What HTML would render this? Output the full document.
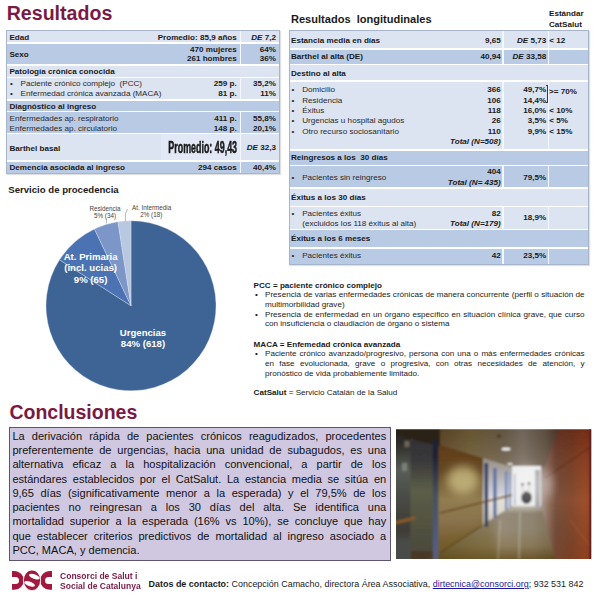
<!DOCTYPE html>
<html><head><meta charset="utf-8"><style>
html,body{margin:0;padding:0;}
body{width:600px;height:600px;overflow:hidden;position:relative;background:#ffffff;font-family:"Liberation Sans", sans-serif;color:#1a1a1a;}
.t{position:absolute;white-space:nowrap;}
.r{position:absolute;}
</style></head><body>
<div class="t " style="top:3.60px;font-size:19.6px;line-height:19.6px;font-weight:bold;color:#7a1a44;left:6.70px;">Resultados</div>
<div class="r" style="left:6px;top:30px;width:274px;height:144px;background:#ffffff;border:1px solid #a6b5c9;box-sizing:border-box;box-shadow:1px 1px 1px rgba(0,0,0,0.12);"></div>
<div class="r" style="left:7px;top:31px;width:272px;height:11px;background:#dce3f1;"></div>
<div class="r" style="left:239.5px;top:31px;width:1.5px;height:11px;background:#f4f7fc;"></div>
<div class="r" style="left:7px;top:43.5px;width:272px;height:20.5px;background:#b9cae5;"></div>
<div class="r" style="left:239.5px;top:43.5px;width:1.5px;height:20.5px;background:#f4f7fc;"></div>
<div class="r" style="left:7px;top:65.5px;width:272px;height:11.0px;background:#dce3f1;"></div>
<div class="r" style="left:7px;top:77.5px;width:272px;height:21.5px;background:#dce3f1;"></div>
<div class="r" style="left:239.5px;top:77.5px;width:1.5px;height:21.5px;background:#f4f7fc;"></div>
<div class="r" style="left:7px;top:100.5px;width:272px;height:10.3px;background:#b9cae5;"></div>
<div class="r" style="left:7px;top:112px;width:272px;height:20.5px;background:#b9cae5;"></div>
<div class="r" style="left:239.5px;top:112px;width:1.5px;height:20.5px;background:#f4f7fc;"></div>
<div class="r" style="left:7px;top:134px;width:272px;height:26.3px;background:#dce3f1;"></div>
<div class="r" style="left:239.5px;top:134px;width:1.5px;height:26.3px;background:#f4f7fc;"></div>
<div class="r" style="left:7px;top:162px;width:272px;height:11px;background:#b9cae5;"></div>
<div class="r" style="left:239.5px;top:162px;width:1.5px;height:11px;background:#f4f7fc;"></div>
<div class="t " style="top:33.70px;font-size:8.1px;line-height:8.1px;font-weight:bold;color:#1a1a1a;left:9.40px;">Edad</div>
<div class="t " style="top:33.70px;font-size:8.1px;line-height:8.1px;font-weight:bold;color:#1a1a1a;right:363.20px;text-align:right;">Promedio: 85,9 años</div>
<div class="t " style="top:33.70px;font-size:8.1px;line-height:8.1px;font-weight:bold;color:#1a1a1a;right:324.00px;text-align:right;"><i>DE</i> 7,2</div>
<div class="t " style="top:50.90px;font-size:8.1px;line-height:8.1px;font-weight:bold;color:#1a1a1a;left:9.40px;">Sexo</div>
<div class="t " style="top:45.80px;font-size:8.1px;line-height:8.1px;font-weight:bold;color:#1a1a1a;right:363.20px;text-align:right;">470 mujeres</div>
<div class="t " style="top:55.20px;font-size:8.1px;line-height:8.1px;font-weight:bold;color:#1a1a1a;right:363.20px;text-align:right;">261 hombres</div>
<div class="t " style="top:45.80px;font-size:8.1px;line-height:8.1px;font-weight:bold;color:#1a1a1a;right:324.00px;text-align:right;">64%</div>
<div class="t " style="top:55.20px;font-size:8.1px;line-height:8.1px;font-weight:bold;color:#1a1a1a;right:324.00px;text-align:right;">36%</div>
<div class="t " style="top:67.75px;font-size:8.1px;line-height:8.1px;font-weight:bold;color:#1a1a1a;left:9.40px;">Patología crónica conocida</div>
<div class="t " style="top:80.25px;font-size:8.1px;line-height:8.1px;color:#2a2a2a;left:10.00px;">•</div>
<div class="t " style="top:80.25px;font-size:8.1px;line-height:8.1px;color:#2a2a2a;left:20.60px;">Paciente crónico complejo&nbsp; (PCC)</div>
<div class="t " style="top:80.25px;font-size:8.1px;line-height:8.1px;font-weight:bold;color:#1a1a1a;right:363.20px;text-align:right;">259 p.</div>
<div class="t " style="top:80.25px;font-size:8.1px;line-height:8.1px;font-weight:bold;color:#1a1a1a;right:324.00px;text-align:right;">35,2%</div>
<div class="t " style="top:89.60px;font-size:8.1px;line-height:8.1px;color:#2a2a2a;left:10.00px;">•</div>
<div class="t " style="top:89.60px;font-size:8.1px;line-height:8.1px;color:#2a2a2a;left:20.60px;">Enfermedad crónica avanzada (MACA)</div>
<div class="t " style="top:89.60px;font-size:8.1px;line-height:8.1px;font-weight:bold;color:#1a1a1a;right:363.20px;text-align:right;">81 p.</div>
<div class="t " style="top:89.60px;font-size:8.1px;line-height:8.1px;font-weight:bold;color:#1a1a1a;right:324.00px;text-align:right;">11%</div>
<div class="t " style="top:102.75px;font-size:8.1px;line-height:8.1px;font-weight:bold;color:#1a1a1a;left:9.40px;">Diagnóstico al ingreso</div>
<div class="t " style="top:115.25px;font-size:8.1px;line-height:8.1px;color:#2a2a2a;left:9.60px;">Enfermedades ap. respiratorio</div>
<div class="t " style="top:115.25px;font-size:8.1px;line-height:8.1px;font-weight:bold;color:#1a1a1a;right:363.20px;text-align:right;">411 p.</div>
<div class="t " style="top:115.25px;font-size:8.1px;line-height:8.1px;font-weight:bold;color:#1a1a1a;right:324.00px;text-align:right;">55,8%</div>
<div class="t " style="top:124.75px;font-size:8.1px;line-height:8.1px;color:#2a2a2a;left:9.60px;">Enfermedades ap. circulatorio</div>
<div class="t " style="top:124.75px;font-size:8.1px;line-height:8.1px;font-weight:bold;color:#1a1a1a;right:363.20px;text-align:right;">148 p.</div>
<div class="t " style="top:124.75px;font-size:8.1px;line-height:8.1px;font-weight:bold;color:#1a1a1a;right:324.00px;text-align:right;">20,1%</div>
<div class="r" style="left:161px;top:134px;width:78.5px;height:26.3px;background:#e3e8f6;"></div>
<div class="t " style="top:144.75px;font-size:8.1px;line-height:8.1px;font-weight:bold;color:#1a1a1a;left:9.40px;">Barthel basal</div>
<div class="t " style="top:140.00px;font-size:15.8px;line-height:15.8px;font-weight:bold;color:#1a1a1a;right:363.20px;text-align:right;transform:scaleX(0.563);transform-origin:100% 50%;-webkit-text-stroke:0.55px #1a1a1a;">Promedio: 49,43</div>
<div class="t " style="top:144.40px;font-size:8.1px;line-height:8.1px;font-weight:bold;color:#1a1a1a;right:324.00px;text-align:right;"><i>DE</i> 32,3</div>
<div class="t " style="top:164.00px;font-size:8.1px;line-height:8.1px;font-weight:bold;color:#1a1a1a;left:9.40px;">Demencia asociada al ingreso</div>
<div class="t " style="top:164.00px;font-size:8.1px;line-height:8.1px;font-weight:bold;color:#1a1a1a;right:363.20px;text-align:right;">294 casos</div>
<div class="t " style="top:164.00px;font-size:8.1px;line-height:8.1px;font-weight:bold;color:#1a1a1a;right:324.00px;text-align:right;">40,4%</div>
<div class="t " style="top:14.10px;font-size:11.05px;line-height:11.05px;font-weight:bold;color:#1a1a1a;left:291.00px;">Resultados&nbsp; longitudinales</div>
<div class="t " style="top:10.00px;font-size:8.1px;line-height:8.1px;font-weight:bold;color:#1a1a1a;left:549.00px;">Estándar</div>
<div class="t " style="top:20.70px;font-size:8.1px;line-height:8.1px;font-weight:bold;color:#1a1a1a;left:549.00px;">CatSalut</div>
<div class="r" style="left:289px;top:30px;width:299.5px;height:234.5px;background:#ffffff;border:1px solid #a6b5c9;box-sizing:border-box;box-shadow:1px 1px 1px rgba(0,0,0,0.12);"></div>
<div class="r" style="left:290px;top:31px;width:297.5px;height:17.3px;background:#dce3f1;"></div>
<div class="r" style="left:502px;top:31px;width:1.5px;height:17.3px;background:#f4f7fc;"></div>
<div class="r" style="left:547.5px;top:31px;width:1.5px;height:17.3px;background:#f4f7fc;"></div>
<div class="r" style="left:290px;top:49.6px;width:297.5px;height:14.1px;background:#b9cae5;"></div>
<div class="r" style="left:502px;top:49.6px;width:1.5px;height:14.1px;background:#f4f7fc;"></div>
<div class="r" style="left:547.5px;top:49.6px;width:1.5px;height:14.1px;background:#f4f7fc;"></div>
<div class="r" style="left:290px;top:65px;width:297.5px;height:15.3px;background:#dce3f1;"></div>
<div class="r" style="left:290px;top:81.6px;width:297.5px;height:67.4px;background:#dce3f1;"></div>
<div class="r" style="left:502px;top:81.6px;width:1.5px;height:67.4px;background:#f4f7fc;"></div>
<div class="r" style="left:547.5px;top:81.6px;width:1.5px;height:67.4px;background:#f4f7fc;"></div>
<div class="r" style="left:290px;top:150.6px;width:297.5px;height:14.4px;background:#b9cae5;"></div>
<div class="r" style="left:290px;top:166.4px;width:297.5px;height:20.9px;background:#b9cae5;"></div>
<div class="r" style="left:502px;top:166.4px;width:1.5px;height:20.9px;background:#f4f7fc;"></div>
<div class="r" style="left:547.5px;top:166.4px;width:1.5px;height:20.9px;background:#f4f7fc;"></div>
<div class="r" style="left:290px;top:188.8px;width:297.5px;height:17.2px;background:#dce3f1;"></div>
<div class="r" style="left:290px;top:207.4px;width:297.5px;height:21.3px;background:#dce3f1;"></div>
<div class="r" style="left:502px;top:207.4px;width:1.5px;height:21.3px;background:#f4f7fc;"></div>
<div class="r" style="left:547.5px;top:207.4px;width:1.5px;height:21.3px;background:#f4f7fc;"></div>
<div class="r" style="left:290px;top:230px;width:297.5px;height:17.3px;background:#b9cae5;"></div>
<div class="r" style="left:290px;top:248.7px;width:297.5px;height:15.3px;background:#b9cae5;"></div>
<div class="r" style="left:502px;top:248.7px;width:1.5px;height:15.3px;background:#f4f7fc;"></div>
<div class="r" style="left:547.5px;top:248.7px;width:1.5px;height:15.3px;background:#f4f7fc;"></div>
<div class="t " style="top:36.50px;font-size:8.1px;line-height:8.1px;font-weight:bold;color:#1a1a1a;left:291.00px;">Estancia media en días</div>
<div class="t " style="top:36.50px;font-size:8.1px;line-height:8.1px;font-weight:bold;color:#1a1a1a;right:99.20px;text-align:right;">9,65</div>
<div class="t " style="top:36.50px;font-size:8.1px;line-height:8.1px;font-weight:bold;color:#1a1a1a;right:53.80px;text-align:right;"><i>DE</i> 5,73</div>
<div class="t " style="top:36.50px;font-size:8.1px;line-height:8.1px;font-weight:bold;color:#1a1a1a;left:549.30px;">&lt; 12</div>
<div class="t " style="top:53.20px;font-size:8.1px;line-height:8.1px;font-weight:bold;color:#1a1a1a;left:291.00px;">Barthel al alta (DE)</div>
<div class="t " style="top:53.20px;font-size:8.1px;line-height:8.1px;font-weight:bold;color:#1a1a1a;right:99.20px;text-align:right;">40,94</div>
<div class="t " style="top:53.20px;font-size:8.1px;line-height:8.1px;font-weight:bold;color:#1a1a1a;right:53.80px;text-align:right;"><i>DE</i> 33,58</div>
<div class="t " style="top:69.70px;font-size:8.1px;line-height:8.1px;font-weight:bold;color:#1a1a1a;left:291.00px;">Destino al alta</div>
<div class="t " style="top:86.00px;font-size:8.1px;line-height:8.1px;color:#2a2a2a;left:291.50px;">•</div>
<div class="t " style="top:86.00px;font-size:8.1px;line-height:8.1px;color:#2a2a2a;left:302.20px;">Domicilio</div>
<div class="t " style="top:86.00px;font-size:8.1px;line-height:8.1px;font-weight:bold;color:#1a1a1a;right:99.20px;text-align:right;">366</div>
<div class="t " style="top:86.00px;font-size:8.1px;line-height:8.1px;font-weight:bold;color:#1a1a1a;right:53.80px;text-align:right;">49,7%</div>
<div class="t " style="top:96.50px;font-size:8.1px;line-height:8.1px;color:#2a2a2a;left:291.50px;">•</div>
<div class="t " style="top:96.50px;font-size:8.1px;line-height:8.1px;color:#2a2a2a;left:302.20px;">Residencia</div>
<div class="t " style="top:96.50px;font-size:8.1px;line-height:8.1px;font-weight:bold;color:#1a1a1a;right:99.20px;text-align:right;">106</div>
<div class="t " style="top:96.50px;font-size:8.1px;line-height:8.1px;font-weight:bold;color:#1a1a1a;right:53.80px;text-align:right;">14,4%</div>
<div class="t " style="top:106.50px;font-size:8.1px;line-height:8.1px;color:#2a2a2a;left:291.50px;">•</div>
<div class="t " style="top:106.50px;font-size:8.1px;line-height:8.1px;color:#2a2a2a;left:302.20px;">Éxitus</div>
<div class="t " style="top:106.50px;font-size:8.1px;line-height:8.1px;font-weight:bold;color:#1a1a1a;right:99.20px;text-align:right;">118</div>
<div class="t " style="top:106.50px;font-size:8.1px;line-height:8.1px;font-weight:bold;color:#1a1a1a;right:53.80px;text-align:right;">16,0%</div>
<div class="t " style="top:117.10px;font-size:8.1px;line-height:8.1px;color:#2a2a2a;left:291.50px;">•</div>
<div class="t " style="top:117.10px;font-size:8.1px;line-height:8.1px;color:#2a2a2a;left:302.20px;">Urgencias u hospital agudos</div>
<div class="t " style="top:117.10px;font-size:8.1px;line-height:8.1px;font-weight:bold;color:#1a1a1a;right:99.20px;text-align:right;">26</div>
<div class="t " style="top:117.10px;font-size:8.1px;line-height:8.1px;font-weight:bold;color:#1a1a1a;right:53.80px;text-align:right;">3,5%</div>
<div class="t " style="top:127.50px;font-size:8.1px;line-height:8.1px;color:#2a2a2a;left:291.50px;">•</div>
<div class="t " style="top:127.50px;font-size:8.1px;line-height:8.1px;color:#2a2a2a;left:302.20px;">Otro recurso sociosanitario</div>
<div class="t " style="top:127.50px;font-size:8.1px;line-height:8.1px;font-weight:bold;color:#1a1a1a;right:99.20px;text-align:right;">110</div>
<div class="t " style="top:127.50px;font-size:8.1px;line-height:8.1px;font-weight:bold;color:#1a1a1a;right:53.80px;text-align:right;">9,9%</div>
<div class="r" style="left:545.8px;top:84.6px;width:2.4px;height:18px;border:0.8px solid #3a3a3a;border-left:none;box-sizing:border-box;"></div>
<div class="t " style="top:88.30px;font-size:8.1px;line-height:8.1px;font-weight:bold;color:#1a1a1a;left:549.10px;">&gt;= 70%</div>
<div class="t " style="top:106.50px;font-size:8.1px;line-height:8.1px;font-weight:bold;color:#1a1a1a;left:549.30px;">&lt; 10%</div>
<div class="t " style="top:117.10px;font-size:8.1px;line-height:8.1px;font-weight:bold;color:#1a1a1a;left:549.30px;">&lt; 5%</div>
<div class="t " style="top:127.50px;font-size:8.1px;line-height:8.1px;font-weight:bold;color:#1a1a1a;left:549.30px;">&lt; 15%</div>
<div class="t " style="top:138.00px;font-size:8.1px;line-height:8.1px;font-weight:bold;font-style:italic;color:#1a1a1a;right:99.20px;text-align:right;">Total (N=508)</div>
<div class="t " style="top:154.20px;font-size:8.1px;line-height:8.1px;font-weight:bold;color:#1a1a1a;left:291.00px;">Reingresos a los&nbsp; 30 días</div>
<div class="t " style="top:173.70px;font-size:8.1px;line-height:8.1px;color:#2a2a2a;left:291.50px;">•</div>
<div class="t " style="top:173.70px;font-size:8.1px;line-height:8.1px;color:#2a2a2a;left:302.20px;">Pacientes sin reingreso</div>
<div class="t " style="top:167.80px;font-size:8.1px;line-height:8.1px;font-weight:bold;color:#1a1a1a;right:99.20px;text-align:right;">404</div>
<div class="t " style="top:179.00px;font-size:8.1px;line-height:8.1px;font-weight:bold;font-style:italic;color:#1a1a1a;right:99.20px;text-align:right;">Total (N= 435)</div>
<div class="t " style="top:174.20px;font-size:8.1px;line-height:8.1px;font-weight:bold;color:#1a1a1a;right:53.80px;text-align:right;">79,5%</div>
<div class="t " style="top:193.70px;font-size:8.1px;line-height:8.1px;font-weight:bold;color:#1a1a1a;left:291.00px;">Éxitus a los 30 días</div>
<div class="t " style="top:209.70px;font-size:8.1px;line-height:8.1px;color:#2a2a2a;left:291.50px;">•</div>
<div class="t " style="top:209.70px;font-size:8.1px;line-height:8.1px;color:#2a2a2a;left:302.20px;">Pacientes éxitus</div>
<div class="t " style="top:219.50px;font-size:8.1px;line-height:8.1px;color:#2a2a2a;left:302.20px;">(excluidos los 118 éxitus al alta)</div>
<div class="t " style="top:209.70px;font-size:8.1px;line-height:8.1px;font-weight:bold;color:#1a1a1a;right:99.20px;text-align:right;">82</div>
<div class="t " style="top:219.80px;font-size:8.1px;line-height:8.1px;font-weight:bold;font-style:italic;color:#1a1a1a;right:99.20px;text-align:right;">Total (N=179)</div>
<div class="t " style="top:214.20px;font-size:8.1px;line-height:8.1px;font-weight:bold;color:#1a1a1a;right:53.80px;text-align:right;">18,9%</div>
<div class="t " style="top:235.00px;font-size:8.1px;line-height:8.1px;font-weight:bold;color:#1a1a1a;left:291.00px;">Éxitus a los 6 meses</div>
<div class="t " style="top:252.30px;font-size:8.1px;line-height:8.1px;color:#2a2a2a;left:291.50px;">•</div>
<div class="t " style="top:252.30px;font-size:8.1px;line-height:8.1px;color:#2a2a2a;left:302.20px;">Pacientes éxitus</div>
<div class="t " style="top:252.30px;font-size:8.1px;line-height:8.1px;font-weight:bold;color:#1a1a1a;right:99.20px;text-align:right;">42</div>
<div class="t " style="top:252.30px;font-size:8.1px;line-height:8.1px;font-weight:bold;color:#1a1a1a;right:53.80px;text-align:right;">23,5%</div>
<div class="t " style="top:281.80px;font-size:8.1px;line-height:8.1px;font-weight:bold;color:#1a1a1a;left:253.60px;">PCC = paciente crónico complejo</div>
<div class="t " style="top:291.10px;font-size:8.1px;line-height:8.1px;color:#1a1a1a;left:255.00px;">•</div>
<div class="t " style="top:291.10px;font-size:8.1px;line-height:8.1px;color:#1a1a1a;left:265.00px;width:319.60px;text-align:justify;text-align-last:justify;">Presencia de varias enfermedades crónicas de manera concurrente (perfil o situación de</div>
<div class="t " style="top:300.50px;font-size:8.1px;line-height:8.1px;color:#1a1a1a;left:265.00px;">multimorbilidad grave)</div>
<div class="t " style="top:310.50px;font-size:8.1px;line-height:8.1px;color:#1a1a1a;left:255.00px;">•</div>
<div class="t " style="top:310.50px;font-size:8.1px;line-height:8.1px;color:#1a1a1a;left:265.00px;width:319.60px;text-align:justify;text-align-last:justify;">Presencia de enfermedad en un órgano específico en situación clínica grave, que curso</div>
<div class="t " style="top:319.80px;font-size:8.1px;line-height:8.1px;color:#1a1a1a;left:265.00px;">con insuficiencia o claudiación de órgano o sistema</div>
<div class="t " style="top:340.80px;font-size:8.1px;line-height:8.1px;font-weight:bold;color:#1a1a1a;left:253.60px;">MACA = Enfemedad crónica avanzada</div>
<div class="t " style="top:350.20px;font-size:8.1px;line-height:8.1px;color:#1a1a1a;left:255.00px;">•</div>
<div class="t " style="top:350.20px;font-size:8.1px;line-height:8.1px;color:#1a1a1a;left:265.00px;width:319.60px;text-align:justify;text-align-last:justify;">Paciente crónico avanzado/progresivo, persona con una o más enfermedades crónicas</div>
<div class="t " style="top:360.10px;font-size:8.1px;line-height:8.1px;color:#1a1a1a;left:265.00px;width:319.60px;text-align:justify;text-align-last:justify;">en fase evolucionada, grave o progresiva, con otras necesidades de atención, y</div>
<div class="t " style="top:370.00px;font-size:8.1px;line-height:8.1px;color:#1a1a1a;left:265.00px;">pronóstico de vida probablemente limitado.</div>
<div class="t " style="top:388.50px;font-size:8.1px;line-height:8.1px;color:#1a1a1a;left:253.60px;"><b>CatSalut</b> = Servicio Catalán de la Salud</div>
<svg class="r" style="left:0;top:0" width="600" height="600" viewBox="0 0 600 600"><path d="M131.0,305.75 L131.00,220.75 A85.0,85.0 0 1 1 59.47,259.84 Z" fill="#3e6496" stroke="#dfe6f0" stroke-width="0.35" stroke-linejoin="round"/><path d="M131.0,305.75 L59.47,259.84 A85.0,85.0 0 0 1 94.45,229.01 Z" fill="#4b73b4" stroke="#dfe6f0" stroke-width="0.35" stroke-linejoin="round"/><path d="M131.0,305.75 L94.45,229.01 A85.0,85.0 0 0 1 117.97,221.75 Z" fill="#7d96c8" stroke="#dfe6f0" stroke-width="0.35" stroke-linejoin="round"/><path d="M131.0,305.75 L117.97,221.75 A85.0,85.0 0 0 1 131.00,220.75 Z" fill="#b9c8e1" stroke="#dfe6f0" stroke-width="0.35" stroke-linejoin="round"/><line x1="106.6" y1="219.5" x2="106.6" y2="223.5" stroke="#8a8a8a" stroke-width="0.6"/><polyline points="127.5,209 125.4,214 125.4,221" fill="none" stroke="#8a8a8a" stroke-width="0.6"/></svg>
<div class="t " style="top:185.40px;font-size:9.6px;line-height:9.6px;font-weight:bold;color:#1a1a1a;left:8.30px;">Servicio de procedencia</div>
<div class="t " style="top:206.40px;font-size:6.3px;line-height:6.3px;color:#444;left:5.00px;width:200px;text-align:center;">Residencia</div>
<div class="t " style="top:213.30px;font-size:6.3px;line-height:6.3px;color:#444;left:5.00px;width:200px;text-align:center;">5% (34)</div>
<div class="t " style="top:205.00px;font-size:6.3px;line-height:6.3px;color:#444;left:51.60px;width:200px;text-align:center;">At. Intermedia</div>
<div class="t " style="top:211.50px;font-size:6.3px;line-height:6.3px;color:#444;left:51.30px;width:200px;text-align:center;">2% (18)</div>
<div class="t " style="top:252.00px;font-size:9.6px;line-height:9.6px;font-weight:bold;color:#ffffff;left:-9.40px;width:200px;text-align:center;">At. Primaria</div>
<div class="t " style="top:263.25px;font-size:9.6px;line-height:9.6px;font-weight:bold;color:#ffffff;left:-9.40px;width:200px;text-align:center;">(incl. ucias)</div>
<div class="t " style="top:274.50px;font-size:9.6px;line-height:9.6px;font-weight:bold;color:#ffffff;left:-9.40px;width:200px;text-align:center;">9% (65)</div>
<div class="t " style="top:327.80px;font-size:9.6px;line-height:9.6px;font-weight:bold;color:#ffffff;left:43.00px;width:200px;text-align:center;">Urgencias</div>
<div class="t " style="top:339.40px;font-size:9.6px;line-height:9.6px;font-weight:bold;color:#ffffff;left:43.00px;width:200px;text-align:center;">84% (618)</div>
<div class="t " style="top:402.90px;font-size:19.5px;line-height:19.5px;font-weight:bold;color:#7a1a44;left:9.40px;">Conclusiones</div>
<div class="r" style="left:9px;top:427px;width:381.5px;height:133.5px;background:#d0c8e1;border:1.3px solid #5e5670;box-sizing:border-box;"></div>
<div class="t " style="top:430.75px;font-size:11.05px;line-height:11.05px;color:#111;left:12.40px;width:373.80px;text-align:justify;text-align-last:justify;">La derivación rápida de pacientes crónicos reagudizados, procedentes</div>
<div class="t " style="top:445.00px;font-size:11.05px;line-height:11.05px;color:#111;left:12.40px;width:373.80px;text-align:justify;text-align-last:justify;">preferentemente de urgencias, hacia una unidad de subagudos, es una</div>
<div class="t " style="top:459.25px;font-size:11.05px;line-height:11.05px;color:#111;left:12.40px;width:373.80px;text-align:justify;text-align-last:justify;">alternativa eficaz a la hospitalización convencional, a partir de los</div>
<div class="t " style="top:473.50px;font-size:11.05px;line-height:11.05px;color:#111;left:12.40px;width:373.80px;text-align:justify;text-align-last:justify;">estándares establecidos por el CatSalut. La estancia media se sitúa en</div>
<div class="t " style="top:487.75px;font-size:11.05px;line-height:11.05px;color:#111;left:12.40px;width:373.80px;text-align:justify;text-align-last:justify;">9,65 días (significativamente menor a la esperada) y el 79,5% de los</div>
<div class="t " style="top:502.00px;font-size:11.05px;line-height:11.05px;color:#111;left:12.40px;width:373.80px;text-align:justify;text-align-last:justify;">pacientes no reingresan a los 30 días del alta. Se identifica una</div>
<div class="t " style="top:516.25px;font-size:11.05px;line-height:11.05px;color:#111;left:12.40px;width:373.80px;text-align:justify;text-align-last:justify;">mortalidad superior a la esperada (16% vs 10%), se concluye que hay</div>
<div class="t " style="top:530.50px;font-size:11.05px;line-height:11.05px;color:#111;left:12.40px;width:373.80px;text-align:justify;text-align-last:justify;">que establecer criterios predictivos de mortalidad al ingreso asociado a</div>
<div class="t " style="top:544.75px;font-size:11.05px;line-height:11.05px;color:#111;left:12.40px;">PCC, MACA, y demencia.</div>
<svg class="r" style="left:0;top:0" width="600" height="600" viewBox="0 0 600 600">
<defs>
<clipPath id="pc"><rect x="396" y="429.2" width="195.3" height="129.8"/></clipPath>
<filter id="bl" x="-10%" y="-10%" width="120%" height="120%"><feGaussianBlur stdDeviation="1.2"/></filter>
<filter id="bl2" x="-50%" y="-50%" width="200%" height="200%"><feGaussianBlur stdDeviation="5"/></filter>
<linearGradient id="gA" gradientUnits="userSpaceOnUse" x1="0" y1="429" x2="0" y2="559"><stop offset="0" stop-color="#282622"/><stop offset="0.1" stop-color="#2d2a26"/><stop offset="0.32" stop-color="#585d56"/><stop offset="0.55" stop-color="#484944"/><stop offset="0.78" stop-color="#3e3c36"/><stop offset="0.88" stop-color="#4a4c48"/><stop offset="1" stop-color="#4a4c48"/></linearGradient>
<linearGradient id="gA2" gradientUnits="userSpaceOnUse" x1="0" y1="440" x2="0" y2="559"><stop offset="0" stop-color="#323236"/><stop offset="0.17" stop-color="#38383a"/><stop offset="0.42" stop-color="#5c5e48"/><stop offset="0.76" stop-color="#505040"/><stop offset="1" stop-color="#4b483a"/></linearGradient>
<linearGradient id="gB" gradientUnits="userSpaceOnUse" x1="0" y1="440" x2="0" y2="559"><stop offset="0" stop-color="#1e2234"/><stop offset="0.15" stop-color="#202437"/><stop offset="0.45" stop-color="#46505a"/><stop offset="1" stop-color="#56608a"/></linearGradient>
<linearGradient id="gC" gradientUnits="userSpaceOnUse" x1="0" y1="444" x2="0" y2="563"><stop offset="0" stop-color="#5c3a18"/><stop offset="0.05" stop-color="#623e1a"/><stop offset="0.22" stop-color="#644824"/><stop offset="0.47" stop-color="#917d50"/><stop offset="0.64" stop-color="#8a734e"/><stop offset="0.81" stop-color="#786030"/><stop offset="1" stop-color="#685024"/></linearGradient>
<linearGradient id="gD" gradientUnits="userSpaceOnUse" x1="437" y1="0" x2="560" y2="0"><stop offset="0" stop-color="#5f4626"/><stop offset="0.27" stop-color="#6e5c34"/><stop offset="0.55" stop-color="#6c5e4a"/><stop offset="0.7" stop-color="#7a6e60"/><stop offset="0.88" stop-color="#645444"/><stop offset="1" stop-color="#4b3426"/></linearGradient>
<linearGradient id="gDv" gradientUnits="userSpaceOnUse" x1="0" y1="429" x2="0" y2="468"><stop offset="0" stop-color="#000" stop-opacity="0.08"/><stop offset="1" stop-color="#fff" stop-opacity="0.12"/></linearGradient>
<linearGradient id="gE" gradientUnits="userSpaceOnUse" x1="541" y1="0" x2="592" y2="0"><stop offset="0" stop-color="#afa098"/><stop offset="0.14" stop-color="#967664"/><stop offset="0.29" stop-color="#7c5440"/><stop offset="0.57" stop-color="#864e32"/><stop offset="0.86" stop-color="#a0502c"/><stop offset="1" stop-color="#964424"/></linearGradient>
<linearGradient id="gE2" gradientUnits="userSpaceOnUse" x1="0" y1="429" x2="0" y2="559"><stop offset="0" stop-color="#3c0500" stop-opacity="0.45"/><stop offset="0.25" stop-color="#3c0500" stop-opacity="0.2"/><stop offset="0.55" stop-color="#000000" stop-opacity="0"/><stop offset="1" stop-color="#5a1900" stop-opacity="0.25"/></linearGradient>
<linearGradient id="gF" gradientUnits="userSpaceOnUse" x1="0" y1="506" x2="0" y2="559"><stop offset="0" stop-color="#c8c4b8"/><stop offset="0.14" stop-color="#968c7a"/><stop offset="0.45" stop-color="#968c78"/><stop offset="0.75" stop-color="#908060"/><stop offset="1" stop-color="#705a30"/></linearGradient>
<linearGradient id="gFh" gradientUnits="userSpaceOnUse" x1="437" y1="0" x2="557" y2="0"><stop offset="0" stop-color="#4a3a10" stop-opacity="0.5"/><stop offset="0.4" stop-color="#4a3a10" stop-opacity="0.1"/><stop offset="0.55" stop-color="#000" stop-opacity="0"/><stop offset="0.8" stop-color="#3a2000" stop-opacity="0.08"/><stop offset="1" stop-color="#3a2000" stop-opacity="0.3"/></linearGradient>
<linearGradient id="gW" gradientUnits="userSpaceOnUse" x1="0" y1="458" x2="0" y2="530"><stop offset="0" stop-color="#968e84"/><stop offset="0.45" stop-color="#cdcdd7"/><stop offset="0.6" stop-color="#e4e0d7"/><stop offset="1" stop-color="#d2cdbe"/></linearGradient>
</defs>
<g clip-path="url(#pc)">
<g filter="url(#bl)">
<rect x="390" y="425" width="210" height="140" fill="#6e5e44"/>
<polygon points="437,425 600,425 560,429 545,467 512,467 437,444" fill="url(#gD)"/>
<polygon points="437,425 600,425 560,429 545,467 512,467 437,444" fill="url(#gDv)"/>
<polygon points="437,444 512,467 512,506 437,555" fill="url(#gC)"/>
<polygon points="483,458 512,467 512,506 483,525" fill="url(#gW)"/>
<polygon points="425,563 437,555 512,506 541,506 557,563" fill="url(#gF)"/>
<polygon points="425,563 437,555 512,506 541,506 557,563" fill="url(#gFh)"/>
<polygon points="560,425 600,425 600,565 557,565 541,506 541,467 545,467" fill="url(#gE)"/>
<polygon points="560,425 600,425 600,565 557,565 541,506 541,467 545,467" fill="url(#gE2)"/>
<rect x="390" y="425" width="21" height="140" fill="url(#gA)"/>
<rect x="410.5" y="440" width="23" height="125" fill="url(#gA2)"/>
<polygon points="390,425 440,425 440,446 410,439 390,432" fill="#2a2018"/>
<rect x="432.8" y="440" width="5.6" height="125" fill="url(#gB)"/>
<rect x="411" y="551" width="22" height="10" fill="#4a3826"/>
<rect x="512" y="466" width="29" height="40" fill="#ececec"/>
<rect x="484.5" y="463" width="3.6" height="64" fill="#2e3a62"/>
<rect x="493.3" y="468" width="3.2" height="50" fill="#5a6ea4"/>
<rect x="505" y="471" width="2.2" height="39" fill="#7084b4"/>
<rect x="509" y="472" width="1.8" height="36" fill="#8698c4"/>
<rect x="514" y="474" width="1.4" height="31" fill="#a0acc8"/>
<rect x="535" y="470" width="5" height="38" fill="#a8a8ac"/>
<line x1="440" y1="513" x2="512" y2="495" stroke="#6a4a22" stroke-width="1.8"/>
<line x1="440" y1="553" x2="482" y2="526" stroke="#5a4418" stroke-width="1.4"/>
<line x1="394" y1="523" x2="415" y2="518" stroke="#8a5a28" stroke-width="3.2"/>
<ellipse cx="506" cy="449" rx="4.5" ry="1.6" fill="#f4f4f4"/>
<ellipse cx="510" cy="464" rx="3" ry="1" fill="#e8e8e8"/>
<ellipse cx="499" cy="436" rx="2" ry="2" fill="#4a3a28"/>
<rect x="404.5" y="441" width="5" height="6" fill="#6a645a"/>
<rect x="402" y="463" width="5" height="8" fill="#7a8078"/>
<ellipse cx="526.5" cy="497.5" rx="5.5" ry="6.5" fill="#16161c"/>
<ellipse cx="522.5" cy="489" rx="1.9" ry="4.5" fill="#d8d8d8"/>
<ellipse cx="529" cy="488" rx="1.9" ry="4.5" fill="#d8d8d8"/>
<circle cx="522.5" cy="484.5" r="1.4" fill="#2a2a2a"/>
<circle cx="529" cy="483.5" r="1.4" fill="#2a2a2a"/>
<line x1="592" y1="446" x2="545" y2="478" stroke="#3a1000" stroke-width="1" opacity="0.5"/>
<line x1="570" y1="520" x2="592" y2="548" stroke="#c07050" stroke-width="1" opacity="0.4"/>
<line x1="500" y1="520" x2="498" y2="559" stroke="#e0dccc" stroke-width="2" opacity="0.3"/>
<line x1="520" y1="512" x2="519" y2="559" stroke="#e0dccc" stroke-width="2" opacity="0.3"/>
</g>
<ellipse cx="463" cy="480" rx="16" ry="14" fill="#d8cc90" opacity="0.7" filter="url(#bl2)"/>
<ellipse cx="547" cy="484" rx="6" ry="14" fill="#d8ccc8" opacity="0.55" filter="url(#bl2)"/>
<polygon points="425,563 437,555 492,519 500,563" fill="#6e5a20" opacity="0.35" filter="url(#bl2)"/>
<ellipse cx="527" cy="486" rx="14" ry="20" fill="#ffffff" opacity="0.3" filter="url(#bl2)"/>
<rect x="589.3" y="429" width="2" height="130" fill="#5a1e28" opacity="0.8"/>
</g>
</svg>

<svg class="r" style="left:0;top:0" width="600" height="600" viewBox="0 0 600 600">
<g fill="#a3183f" fill-rule="evenodd">
<path d="M12,571.1 H14.5 A9.3,9.3 0 0 1 14.5,589.7 H12 Z M12,577 H15.5 A3.5,3.5 0 0 1 15.5,584 H12 Z"/>
<path d="M52,571.1 H49.5 A9.3,9.3 0 0 0 49.5,589.7 H52 Z M52,577 H48.5 A3.5,3.5 0 0 0 48.5,584 H52 Z"/>
</g>
<ellipse cx="32" cy="580.3" rx="8.6" ry="10.4" fill="#a3183f" stroke="#ffffff" stroke-width="0.9"/>
<ellipse cx="34.4" cy="576.7" rx="5.6" ry="2.3" transform="rotate(20 34.4 576.7)" fill="#ffffff"/>
<ellipse cx="29.6" cy="583.9" rx="5.6" ry="2.3" transform="rotate(20 29.6 583.9)" fill="#ffffff"/>
</svg>
<div class="t " style="top:570.90px;font-size:9.6px;line-height:9.6px;font-weight:bold;color:#7e2049;left:59.90px;transform:scaleX(0.89);transform-origin:0 50%;">Consorci de Salut i</div>
<div class="t " style="top:581.00px;font-size:9.6px;line-height:9.6px;font-weight:bold;color:#7e2049;left:59.90px;transform:scaleX(0.89);transform-origin:0 50%;">Social de Catalunya</div>
<div class="t " style="top:580.00px;font-size:8.95px;line-height:8.95px;color:#1a1a1a;left:148.60px;"><b>Datos de contacto:</b> Concepción Camacho, directora Área Associativa, <u style="color:#1a1aa0">dirtecnica@consorci.org</u>; 932 531 842</div>
</body></html>
